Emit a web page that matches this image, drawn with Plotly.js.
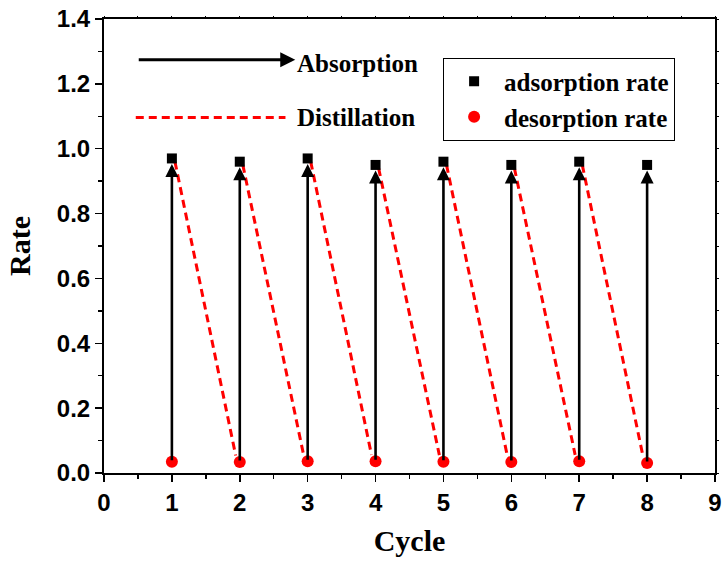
<!DOCTYPE html>
<html>
<head>
<meta charset="utf-8">
<script src="https://cdn.plot.ly/plotly-3.0.1.min.js"></script>
<style>html,body{margin:0;padding:0;background:#fff;}#chart{width:725px;height:563px;}</style>
</head>
<body>
<div id="chart"></div>
<script>
const cycles = [1, 2, 3, 4, 5, 6, 7, 8];
const adsorptionRate = [0.97, 0.96, 0.97, 0.95, 0.96, 0.95, 0.96, 0.95];
const desorptionRate = [0.035, 0.034, 0.036, 0.036, 0.035, 0.034, 0.036, 0.031];
const xTickLabels = ['0','1','2','3','4','5','6','7','8','9'];

const serif = 'Liberation Serif, Times New Roman, serif';
const sans = 'Liberation Sans, Arial, sans-serif';

// dashed "distillation" segments: from each adsorption point to the next desorption point
const dx = [], dy = [];
for (let i = 0; i < cycles.length - 1; i++) {
  dx.push(cycles[i] + 0.045, cycles[i + 1] - 0.06, null);
  dy.push(adsorptionRate[i] - 0.01, desorptionRate[i + 1] + 0.02, null);
}

const traces = [
  {x: dx, y: dy, mode: 'lines', showlegend: false, hoverinfo: 'skip',
   line: {color: '#ff0000', width: 3, dash: '8px,5px'}},
  {x: cycles, y: adsorptionRate, mode: 'markers', name: 'adsorption rate',
   marker: {symbol: 'square', size: 10, color: '#000'}},
  {x: cycles, y: desorptionRate, mode: 'markers', name: 'desorption rate',
   marker: {symbol: 'circle', size: 12, color: '#ff0000'}},
  // invisible helper trace so the mirrored tick axes (top/right) are drawn
  {x: [0, 9], y: [0, 1.4], xaxis: 'x2', yaxis: 'y2', mode: 'markers', showlegend: false,
   hoverinfo: 'skip', marker: {opacity: 0, size: 1}}
];

const annotations = [];
for (let i = 0; i < cycles.length; i++) {
  annotations.push({
    x: cycles[i], y: adsorptionRate[i] - 0.017, xref: 'x', yref: 'y',
    ax: cycles[i], ay: desorptionRate[i], axref: 'x', ayref: 'y',
    showarrow: true, arrowhead: 2, arrowsize: 1.0, arrowwidth: 2.6, arrowcolor: '#000',
    text: '', standoff: 0
  });
}
annotations.push({
  x: 0.313, y: 0.910, xref: 'paper', yref: 'paper', ax: -158, ay: 0,
  showarrow: true, arrowhead: 2, arrowsize: 1.0, arrowwidth: 3, arrowcolor: '#000', text: ''
});
annotations.push({
  x: 0.313, y: 0.903, xref: 'paper', yref: 'paper', xanchor: 'left', yanchor: 'middle',
  showarrow: false, text: 'Absorption', font: {family: serif, size: 25, color: '#000', weight: 'bold'}
});
annotations.push({
  x: 0.313, y: 0.783, xref: 'paper', yref: 'paper', xanchor: 'left', yanchor: 'middle',
  showarrow: false, text: 'Distillation', font: {family: serif, size: 25, color: '#000', weight: 'bold'}
});

const layout = {
  width: 725, height: 563,
  margin: {l: 104, r: 10, t: 19, b: 90},
  paper_bgcolor: '#fff', plot_bgcolor: '#fff',
  showlegend: true,
  legend: {
    x: 0.555, y: 0.915, xanchor: 'left', yanchor: 'top',
    bgcolor: '#fff', bordercolor: '#000', borderwidth: 1,
    font: {family: serif, size: 25, color: '#000', weight: 'bold'},
    itemwidth: 50, tracegroupgap: 0
  },
  xaxis: {
    range: [0, 9], tickmode: 'array', tickvals: [0,1,2,3,4,5,6,7,8,9], ticktext: xTickLabels,
    showgrid: false, zeroline: false,
    showline: true, linecolor: '#000', linewidth: 2, mirror: true,
    ticks: 'outside', ticklen: 7, tickwidth: 1.5, tickcolor: '#000',
    minor: {dtick: 0.5, ticks: 'outside', ticklen: 4, tickwidth: 1.5, tickcolor: '#000'},
    tickfont: {family: sans, size: 24, color: '#000', weight: 'bold'},
    title: {text: 'Cycle', font: {family: serif, size: 30, color: '#000', weight: 'bold'}, standoff: 15}
  },
  yaxis: {
    range: [0, 1.4], dtick: 0.2, tick0: 0, tickformat: '.1f',
    showgrid: false, zeroline: false,
    showline: true, linecolor: '#000', linewidth: 2, mirror: true,
    ticks: 'outside', ticklen: 7, tickwidth: 1.5, tickcolor: '#000',
    minor: {dtick: 0.1, ticks: 'outside', ticklen: 4, tickwidth: 1.5, tickcolor: '#000'},
    tickfont: {family: sans, size: 24, color: '#000', weight: 'bold'},
    title: {text: 'Rate', font: {family: serif, size: 30, color: '#000', weight: 'bold'}, standoff: 17}
  },
  xaxis2: {
    overlaying: 'x', side: 'top', range: [0, 9], dtick: 0.5, tick0: 0,
    showticklabels: false, showgrid: false, zeroline: false, showline: false,
    ticks: 'outside', ticklen: 2, tickwidth: 1, tickcolor: '#000'
  },
  yaxis2: {
    overlaying: 'y', side: 'right', range: [0, 1.4], dtick: 0.1, tick0: 0,
    showticklabels: false, showgrid: false, zeroline: false, showline: false,
    ticks: 'outside', ticklen: 3, tickwidth: 1, tickcolor: '#000'
  },
  shapes: [{
    type: 'line', xref: 'paper', yref: 'paper', x0: 0.052, x1: 0.297, y0: 0.783, y1: 0.783,
    line: {color: '#ff0000', width: 3, dash: '8px,5px'}
  }],
  annotations: annotations
};

Plotly.newPlot('chart', traces, layout, {displayModeBar: false, staticPlot: true});
</script>
</body>
</html>
